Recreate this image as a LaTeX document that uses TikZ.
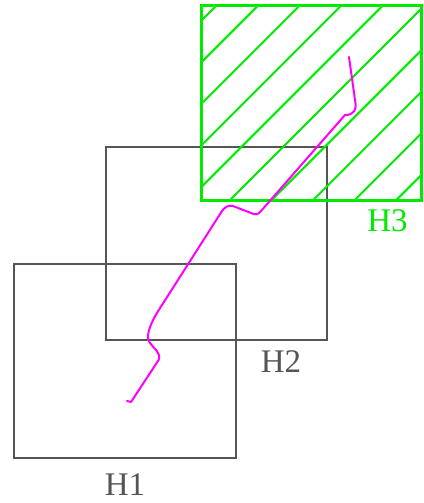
\documentclass[tikz,border=0pt]{standalone}
\usepackage{fontspec}
\setmainfont{Liberation Serif}
\definecolor{boxgrey}{RGB}{85,85,85}
\definecolor{hgreen}{RGB}{0,235,0}
\definecolor{path}{RGB}{255,0,255}
\begin{document}
\begin{tikzpicture}[x=1pt,y=-1pt,
  box/.style={draw=boxgrey,line width=2pt,inner sep=0pt,outer sep=0pt,rectangle},
  greenbox/.style={draw=hgreen,line width=3pt,inner sep=0pt,outer sep=0pt,rectangle},
  lbl/.style={font=\fontsize{33}{33}\selectfont,text=boxgrey,inner sep=0pt},
  glbl/.style={lbl,text=hgreen},
  hatch/.style={draw=hgreen,line width=2pt},
  traj/.style={draw=path,line width=2pt,line join=round,line cap=round}]
\useasboundingbox[fill=white] (0,0) rectangle (423,503);
\node[box,minimum width=222pt,minimum height=194pt] (h1) at (125,361) {};
\node[box,minimum width=221pt,minimum height=193pt] (h2) at (216.5,243.5) {};
\node[greenbox,minimum width=220pt,minimum height=194pt] (h3) at (311,103) {};
\begin{scope}
  \clip (h3.south west) rectangle (h3.north east);
  \foreach \k in {-6,...,12} {
    \pgfmathsetmacro{\c}{222+41.6*\k}
    \draw[hatch] (\c+50,-50) -- (\c-250,250);
  }
\end{scope}
\node[lbl] (l1) at (125,484.5) {H1};
\node[lbl] (l2) at (281,361.5) {H2};
\node[glbl] (l3) at (387.5,221) {H3};
\draw[traj] (349,57) -- (355,100) .. controls (357,110) and (354,115) .. (345,115)
  -- (261,211) .. controls (258,215) and (255,215) .. (251,213)
  -- (233,206) .. controls (228,205) and (225,207) .. (222,211)
  -- (162,305) .. controls (152,320) and (148,330) .. (148,337)
  .. controls (148,345) and (157,348) .. (159,355)
  .. controls (160,359) and (158,361) .. (156,364)
  -- (131,402) -- (127,401);
\end{tikzpicture}
\end{document}
